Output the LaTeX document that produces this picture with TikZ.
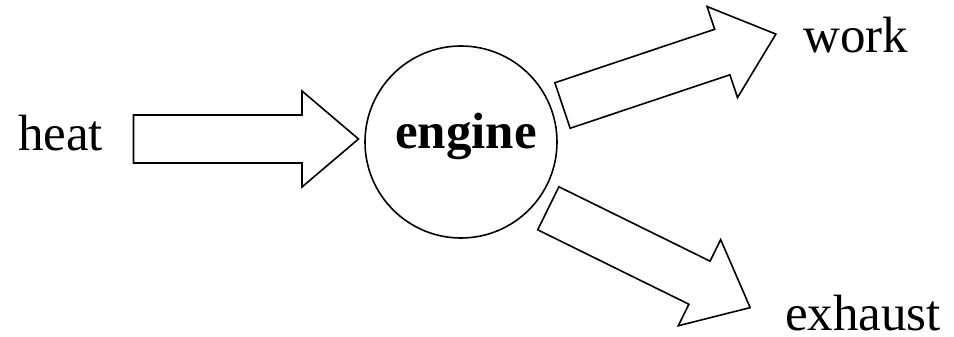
\documentclass[tikz,border=0pt]{standalone}
\usepackage{fontspec}
\setmainfont{Liberation Serif}
\begin{document}
\begin{tikzpicture}[x=1pt,y=-1pt,
  lbl/.style={inner sep=0pt, font=\fontsize{51}{60}\selectfont},
  blockarrow/.pic={\draw[line width=1.6pt, line join=miter]
    (0,-24)--(168.5,-24)--(168.5,-48)--(225,0)--(168.5,48)--(168.5,24)--(0,24)--cycle;}]
\useasboundingbox (0,0) rectangle (954,337);
\node[lbl, anchor=base west] (heat) at (18,150) {heat};
\node[circle, draw, line width=1.6pt, minimum size=192pt, inner sep=0pt] (engine) at (461,142) {};
\node[lbl, anchor=base, font=\fontsize{51}{60}\selectfont\bfseries] (enginelabel) at (466,148) {engine};
\node[lbl, anchor=base west] (work) at (803,53) {work};
\node[lbl, anchor=base west] (exhaust) at (785,330) {exhaust};
\pic (heatarrow) at (133.5,139) {blockarrow};
\pic[rotate=18.5] (workarrow) at (562.5,105.5) {blockarrow};
\pic[rotate=-26.2] (exhaustarrow) at (548.3,208.3) {blockarrow};
\end{tikzpicture}
\end{document}
